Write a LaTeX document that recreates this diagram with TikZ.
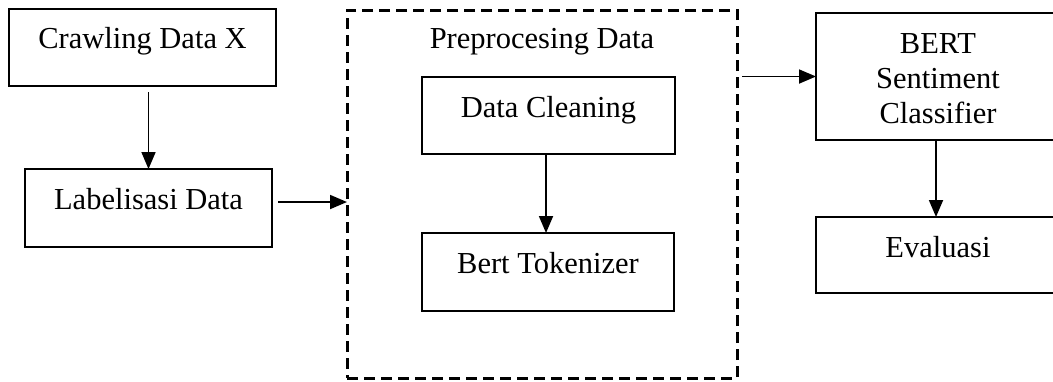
\documentclass[tikz,border=0pt]{standalone}
\usepackage{fontspec}
\setmainfont{Liberation Serif}
\usetikzlibrary{arrows.meta}
\begin{document}
\begin{tikzpicture}[x=1pt,y=-1pt,
  txt/.style={font=\fontsize{30.5}{35}\selectfont},
  box/.style={draw, line width=1.6pt, inner sep=0pt, outer sep=0pt, anchor=north west, txt},
  grp/.style={draw, dash pattern=on 11pt off 6pt, line width=3pt, inner sep=0pt, outer sep=0pt, anchor=north west, txt},
  arr/.style={line width=1.8pt, -{Triangle[length=17pt,width=14pt]}}]
\useasboundingbox (0,0) rectangle (1053,381);
\node[box, minimum width=267pt, text height=39pt, text depth=38pt] (crawl) at (9,9) {Crawling Data X};
\node[box, minimum width=247pt, text height=40pt, text depth=38pt] (lab) at (25,169) {Labelisasi Data};
\node[grp, minimum width=390pt, text height=38pt, text depth=330pt] (pre) at (347,10) {Preprocesing Data};
\node[box, minimum width=253pt, text height=40pt, text depth=37pt] (clean) at (422,77) {Data Cleaning};
\node[box, minimum width=252pt, text height=40pt, text depth=38pt] (tok) at (422,233) {Bert Tokenizer};
\node[box, minimum width=244pt, text height=40pt, text depth=87pt] (bert) at (816,13)
  {\begin{tabular}[t]{@{}c@{}}BERT\\Sentiment\\Classifier\end{tabular}};
\node[box, minimum width=244pt, text height=40pt, text depth=36pt] (eval) at (816,217) {Evaluasi};

\draw[arr, shorten <=6pt] (lab.north |- crawl.south) -- (lab.north);
\draw[arr, shorten <=6pt] ([yshift=6pt]lab.east) -- ([yshift=6pt]lab.east -| pre.west);
\draw[arr] ([xshift=-2pt]tok.north |- clean.south) -- ([xshift=-2pt]tok.north);
\draw[arr, shorten <=5pt] (bert.west -| pre.east) -- (bert.west);
\draw[arr] ([xshift=-2pt]bert.south) -- ([xshift=-2pt]eval.north);
\end{tikzpicture}
\end{document}
